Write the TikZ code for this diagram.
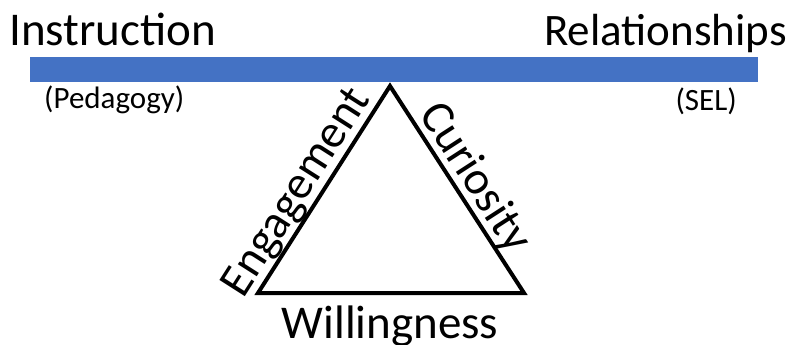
\documentclass[tikz,border=0pt]{standalone}
\usepackage{fontspec}
\setmainfont{Carlito}
\begin{document}
\begin{tikzpicture}[x=1pt,y=1pt]
  \definecolor{barblue}{HTML}{4472C4}
  \tikzset{big/.style={font=\fontsize{47}{52}\selectfont, inner sep=0pt},
    small/.style={font=\fontsize{31}{34}\selectfont, inner sep=0pt}}
  \useasboundingbox (0,0) rectangle (800,-345);
  \fill[barblue] (30,-57) rectangle (758,-82);
  \node[big, anchor=base west] (instr) at (9,-46) {Instruction};
  \node[big, font=\fontsize{45}{50}\selectfont, anchor=base east] (rel) at (787,-46) {Relationships};
  \node[small, anchor=base west] (ped) at (44,-108) {(Pedagogy)};
  \node[small, anchor=base east] (sel) at (737,-110) {(SEL)};
  % the balance
  \coordinate (top) at (390,-86);
  \coordinate (bl) at (258,-293);
  \coordinate (br) at (524,-293);
  \draw[line width=4pt] (bl) -- (top) -- (br) -- cycle;
  \path (bl) -- (top) node[big, pos=0.43, sloped, above, inner sep=1pt] (eng) {Engagement};
  \path (top) -- (br) node[big, pos=0.5, sloped, above, inner sep=1pt] (cur) {Curiosity};
  \node[big, anchor=base] (will) at (390,-338) {Willingness};
\end{tikzpicture}
\end{document}
